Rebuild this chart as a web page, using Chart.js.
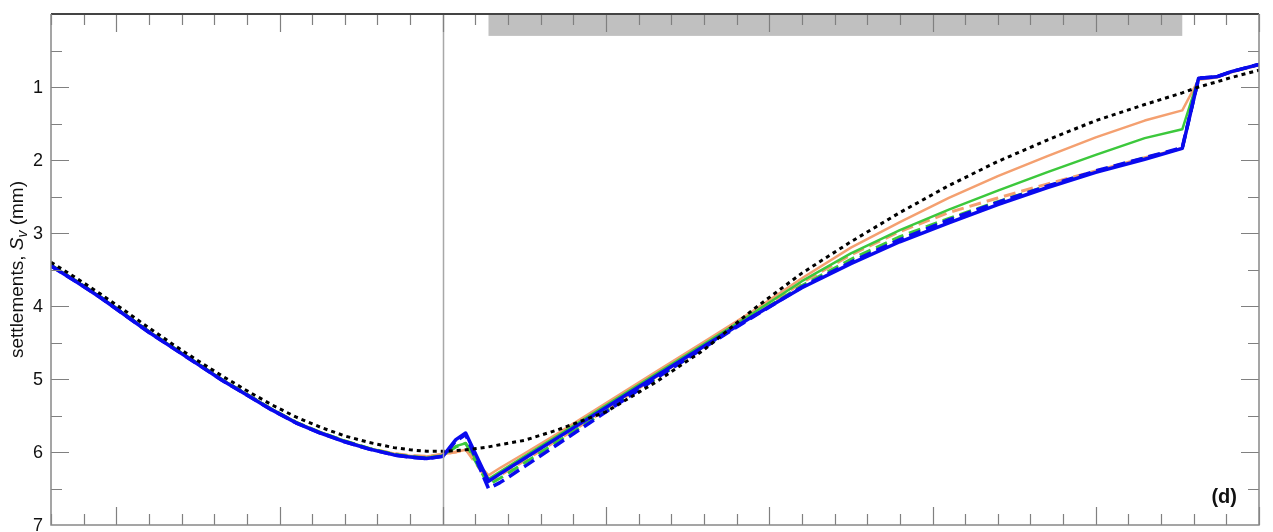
<!DOCTYPE html>
<html>
<head>
<meta charset="utf-8">
<script src="https://cdn.jsdelivr.net/npm/chart.js@4"></script>
<style>
  html, body { margin: 0; padding: 0; background: #fff; }
  #wrap { width: 1273px; height: 532px; }
</style>
</head>
<body>
<div id="wrap"><canvas id="settleChart" width="1273" height="532"></canvas></div>
<script>
// distance along the section (arbitrary units, no labels in the figure)
var xs = [-4, -2.5, -1, 0.5, 2, 3.5, 5, 6.5, 8, 9.5, 11, 12.5, 14, 15.5, 17, 18, 19, 20,
          20.8, 21.4, 22.8, 23.5, 25, 27, 30, 33, 36, 39, 42, 45, 48, 51, 54, 57, 60, 63, 65.3,
          66.3, 67.4, 68.3, 70];

// settlements (mm)
var orangeSolid = [3.44, 3.65, 3.87, 4.11, 4.35, 4.57, 4.79, 5.01, 5.21, 5.41, 5.59, 5.73, 5.85, 5.95, 6.02, 6.05, 6.06, 6.03,
                   6.00, 5.97, 6.32, 6.22, 6.02, 5.75, 5.33, 4.91, 4.49, 4.07, 3.62, 3.20, 2.85, 2.52, 2.22, 1.95, 1.69, 1.46, 1.32,
                   0.90, 0.87, 0.80, 0.70];
var greenSolid  = [3.44, 3.65, 3.87, 4.11, 4.35, 4.57, 4.79, 5.01, 5.21, 5.41, 5.59, 5.73, 5.85, 5.95, 6.03, 6.06, 6.08, 6.05,
                   5.92, 5.88, 6.37, 6.27, 6.06, 5.78, 5.36, 4.94, 4.52, 4.10, 3.66, 3.28, 2.96, 2.68, 2.42, 2.17, 1.93, 1.70, 1.58,
                   0.88, 0.86, 0.79, 0.69];
var blueSolid   = [3.45, 3.66, 3.88, 4.12, 4.36, 4.58, 4.80, 5.02, 5.22, 5.42, 5.60, 5.74, 5.86, 5.96, 6.04, 6.07, 6.09, 6.06,
                   5.83, 5.74, 6.40, 6.30, 6.09, 5.81, 5.39, 4.97, 4.55, 4.14, 3.75, 3.42, 3.12, 2.86, 2.61, 2.38, 2.17, 1.99, 1.84,
                   0.88, 0.86, 0.79, 0.69];
var orangeDash  = [3.44, 3.65, 3.87, 4.11, 4.35, 4.57, 4.79, 5.01, 5.21, 5.41, 5.59, 5.73, 5.85, 5.95, 6.02, 6.05, 6.06, 6.03,
                   6.00, 5.96, 6.40, 6.32, 6.12, 5.84, 5.42, 4.98, 4.55, 4.12, 3.68, 3.30, 2.98, 2.72, 2.52, 2.33, 2.15, 1.97, 1.84,
                   0.88, 0.86, 0.79, 0.69];
var greenDash   = [3.44, 3.65, 3.87, 4.11, 4.35, 4.57, 4.79, 5.01, 5.21, 5.41, 5.59, 5.73, 5.85, 5.95, 6.03, 6.06, 6.08, 6.05,
                   5.93, 5.88, 6.45, 6.36, 6.15, 5.86, 5.44, 5.00, 4.57, 4.14, 3.72, 3.36, 3.05, 2.80, 2.57, 2.36, 2.16, 1.97, 1.84,
                   0.88, 0.86, 0.79, 0.69];
var blueDash    = [3.45, 3.66, 3.88, 4.12, 4.36, 4.58, 4.80, 5.02, 5.22, 5.42, 5.60, 5.74, 5.86, 5.96, 6.04, 6.07, 6.09, 6.06,
                   5.85, 5.76, 6.50, 6.42, 6.20, 5.90, 5.45, 5.00, 4.57, 4.15, 3.74, 3.40, 3.09, 2.82, 2.58, 2.36, 2.15, 1.97, 1.83,
                   0.88, 0.86, 0.79, 0.69];
var greenfield  = [3.40, 3.61, 3.83, 4.06, 4.30, 4.53, 4.75, 4.96, 5.16, 5.35, 5.52, 5.66, 5.78, 5.87, 5.94, 5.97, 5.99, 5.99,
                   5.98, 5.97, 5.93, 5.90, 5.84, 5.70, 5.45, 5.05, 4.60, 4.05, 3.55, 3.12, 2.72, 2.35, 2.02, 1.73, 1.46, 1.24, 1.08,
                   1.00, 0.93, 0.87, 0.77];

var yTicks = [1, 2, 3, 4, 5, 6, 7];
var wallX = 20;            // vertical reference line
var bandFrom = 22.8, bandTo = 65.3, bandDepth = 0.3;  // grey bar at the top

function pts(arr) {
    return xs.map(function (x, i) { return { x: x, y: arr[i] }; });
}

var FONT = '"Liberation Sans", Arial, sans-serif';

// frame, inward ticks, y labels and the little annotations
var framePlugin = {
    id: 'frame',
    beforeDraw: function (chart) {
        var c = chart.ctx, xS = chart.scales.x, yS = chart.scales.y;
        c.save();
        c.fillStyle = '#c0c0c0';
        var x0 = xS.getPixelForValue(bandFrom), x1 = xS.getPixelForValue(bandTo);
        var y0 = yS.getPixelForValue(0), y1 = yS.getPixelForValue(bandDepth);
        c.fillRect(x0, y0, x1 - x0, y1 - y0);
        c.restore();
    },
    afterDraw: function (chart) {
        var c = chart.ctx, a = chart.chartArea, xS = chart.scales.x, yS = chart.scales.y;
        c.save();
        // wall line
        c.strokeStyle = '#a8a8a8';
        c.lineWidth = 1.5;
        var wx = Math.round(xS.getPixelForValue(wallX)) + 0.5;
        c.beginPath(); c.moveTo(wx, a.top); c.lineTo(wx, a.bottom); c.stroke();

        // ticks
        c.strokeStyle = '#808080';
        c.lineWidth = 1.2;
        c.beginPath();
        for (var v = -4; v <= 70; v += 2) {
            var px = Math.round(xS.getPixelForValue(v)) + 0.5;
            var len = (v % 10 === 0) ? 18 : 11;
            c.moveTo(px, a.top); c.lineTo(px, a.top + len);
            c.moveTo(px, a.bottom); c.lineTo(px, a.bottom - len);
        }
        for (var w = 0.5; w < 7; w += 0.5) {
            var py = Math.round(yS.getPixelForValue(w)) + 0.5;
            var l2 = (w % 1 === 0) ? 18 : 11;
            c.moveTo(a.left, py); c.lineTo(a.left + l2, py);
            c.moveTo(a.right, py); c.lineTo(a.right - l2, py);
        }
        c.stroke();

        // frame
        c.strokeStyle = '#444';
        c.lineWidth = 2;
        c.beginPath(); c.moveTo(a.left, a.top); c.lineTo(a.right, a.top); c.stroke();
        c.strokeStyle = '#888';
        c.lineWidth = 1.5;
        c.beginPath();
        c.moveTo(a.left, a.top); c.lineTo(a.left, a.bottom); c.lineTo(a.right, a.bottom); c.lineTo(a.right, a.top);
        c.stroke();

        // y tick labels
        c.fillStyle = '#111';
        c.font = '18px ' + FONT;
        c.textAlign = 'right';
        c.textBaseline = 'middle';
        yTicks.forEach(function (t) {
            c.fillText(String(t), a.left - 8, yS.getPixelForValue(t) + 1);
        });

        // y axis title: settlements, S_v (mm)
        c.translate(23, (a.top + a.bottom) / 2);
        c.rotate(-Math.PI / 2);
        c.textBaseline = 'alphabetic';
        c.textAlign = 'left';
        var p1 = 'settlements, ', p3 = ' (mm)';
        c.font = '19px ' + FONT;
        var w1 = c.measureText(p1).width, w3 = c.measureText(p3).width;
        c.font = 'italic 19px ' + FONT;
        var w2 = c.measureText('S').width;
        c.font = 'italic 14px ' + FONT;
        var w2b = c.measureText('v').width;
        var total = w1 + w2 + w2b + w3, sx = -total / 2;
        c.font = '19px ' + FONT;
        c.fillText(p1, sx, 0);
        c.font = 'italic 19px ' + FONT;
        c.fillText('S', sx + w1, 0);
        c.font = 'italic 14px ' + FONT;
        c.fillText('v', sx + w1 + w2, 4);
        c.font = '19px ' + FONT;
        c.fillText(p3, sx + w1 + w2 + w2b, 0);
        c.restore();

        // panel label
        c.save();
        c.fillStyle = '#111';
        c.font = 'bold 20px ' + FONT;
        c.textAlign = 'right';
        c.textBaseline = 'middle';
        c.fillText('(d)', a.right - 22, a.bottom - 28);
        c.restore();
    }
};

function line(data, color, width, dash) {
    return {
        data: pts(data),
        borderColor: color,
        borderWidth: width,
        borderDash: dash || [],
        pointRadius: 0,
        fill: false,
        tension: 0,
        borderJoinStyle: 'round'
    };
}

// Chart.js paints the first dataset on top, so the list runs top -> bottom
var ctx = document.getElementById('settleChart').getContext('2d');
var settleChart = new Chart(ctx, {
    type: 'line',
    data: {
        datasets: [
            line(greenfield, '#000000', 3, [4, 4]),
            line(blueDash, '#0a0aee', 3.5, [12, 6]),
            line(blueSolid, '#0a0aee', 3.5),
            line(greenDash, '#3cc83c', 3, [12, 6]),
            line(greenSolid, '#3cc83c', 2.5),
            line(orangeDash, '#f4a070', 3, [12, 6]),
            line(orangeSolid, '#f4a070', 2.5)
        ]
    },
    plugins: [framePlugin],
    options: {
        responsive: false,
        animation: false,
        layout: { padding: { left: 51, top: 14, right: 14, bottom: 7 } },
        plugins: { legend: { display: false }, tooltip: { enabled: false } },
        scales: {
            x: { type: 'linear', min: -4, max: 70, display: false },
            y: { type: 'linear', min: 0, max: 7, reverse: true, display: false }
        }
    }
});
</script>
</body>
</html>
